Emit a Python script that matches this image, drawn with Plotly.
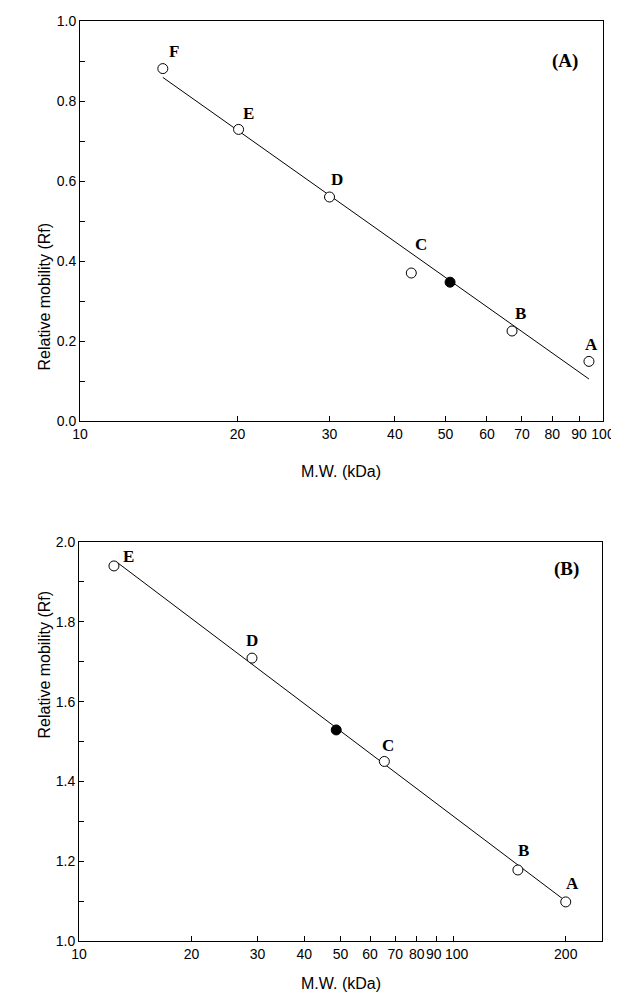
import math
import plotly.graph_objects as go

# ---------- Data: panel (A) ----------
a_labels = ["F", "E", "D", "C", "B", "A"]
a_mw = [14.4, 20.1, 30.0, 43.0, 67.0, 94.0]
a_rf = [0.881, 0.729, 0.560, 0.370, 0.225, 0.149]
a_unknown_mw = [51.0]
a_unknown_rf = [0.347]
a_fit_mw = [14.4, 94.0]
a_fit_rf = [0.859, 0.105]

# ---------- Data: panel (B) ----------
b_labels = ["E", "D", "C", "B", "A"]
b_mw = [12.4, 29.0, 65.5, 149.0, 200.0]
b_rf = [1.940, 1.709, 1.450, 1.178, 1.098]
b_unknown_mw = [48.7]
b_unknown_rf = [1.529]
b_fit_mw = [12.6, 200.0]
b_fit_rf = [1.950, 1.100]

a_xticks = [10, 20, 30, 40, 50, 60, 70, 80, 90, 100]
b_xticks = [10, 20, 30, 40, 50, 60, 70, 80, 90, 100, 200]
b_crowded = [90, 100]          # labels drawn separately to avoid collision

W, H = 619, 995

def px_x(p):
    return p / W

def px_y(p):
    return 1 - p / H

fig = go.Figure()

def add_panel(xa, ya, mw, rf, umw, urf, fmw, frf):
    fig.add_trace(go.Scatter(x=fmw, y=frf, mode="lines",
                             line=dict(color="black", width=1),
                             xaxis=xa, yaxis=ya, showlegend=False, hoverinfo="skip"))
    fig.add_trace(go.Scatter(x=mw, y=rf, mode="markers",
                             marker=dict(symbol="circle", size=10, color="white",
                                         line=dict(color="black", width=1)),
                             xaxis=xa, yaxis=ya, showlegend=False))
    fig.add_trace(go.Scatter(x=umw, y=urf, mode="markers",
                             marker=dict(symbol="circle", size=10, color="black",
                                         line=dict(color="black", width=1)),
                             xaxis=xa, yaxis=ya, showlegend=False))

add_panel("x", "y", a_mw, a_rf, a_unknown_mw, a_unknown_rf, a_fit_mw, a_fit_rf)
add_panel("x2", "y2", b_mw, b_rf, b_unknown_mw, b_unknown_rf, b_fit_mw, b_fit_rf)

tickfont = dict(family="Liberation Sans, Arial, sans-serif", size=14, color="black")

def xaxis_cfg(rng, ticks, anchor, dom, hide=()):
    return dict(type="log", range=rng, domain=dom, anchor=anchor, automargin=False,
                tickvals=ticks, ticktext=["" if t in hide else str(t) for t in ticks],
                tickangle=0,
                ticks="inside", ticklen=5, tickcolor="black", tickwidth=1,
                showline=True, linecolor="black", linewidth=1, mirror=True,
                showgrid=False, zeroline=False, tickfont=tickfont)

def yaxis_cfg(rng, anchor, dom):
    return dict(range=rng, domain=dom, anchor=anchor, dtick=0.2, tickformat=".1f",
                automargin=False,
                ticks="inside", ticklen=5, tickcolor="black", tickwidth=1,
                minor=dict(dtick=0.1, ticks="inside", ticklen=5, tickcolor="black"),
                showline=True, linecolor="black", linewidth=1, mirror=True,
                showgrid=False, zeroline=False, tickfont=tickfont)

B_BOTTOM = 933
fig.update_layout(
    width=W, height=H,
    margin=dict(l=0, r=0, t=0, b=0, autoexpand=False),
    paper_bgcolor="white", plot_bgcolor="white",
    xaxis=xaxis_cfg([1, 2], a_xticks, "y", [px_x(72), px_x(595)]),
    yaxis=yaxis_cfg([0, 1.0], "x", [px_y(413), px_y(13)]),
    xaxis2=xaxis_cfg([1, 2.39794], b_xticks, "y2", [px_x(71), px_x(594)], hide=b_crowded),
    yaxis2=yaxis_cfg([1.0, 2.0], "x2", [px_y(B_BOTTOM), px_y(534)]),
    showlegend=False,
)

# crowded tick labels of panel B, nudged apart slightly
for t, dx in zip(b_crowded, (-2, 4)):
    fig.add_annotation(x=math.log10(t), xref="x2", y=px_y(B_BOTTOM), yref="paper",
                       text=str(t), showarrow=False, font=tickfont,
                       yanchor="top", xshift=dx, yshift=-3)

letter_font = dict(family="Liberation Serif, Times New Roman, serif", size=17, color="black")
title_font = dict(family="Liberation Sans, Arial, sans-serif", size=16, color="black")

a_offsets = [(11, 17), (10, 16), (7, 18), (10, 29), (8, 18), (3, 17)]
for lab, x, y, (dx, dy) in zip(a_labels, a_mw, a_rf, a_offsets):
    fig.add_annotation(x=math.log10(x), y=y, xref="x", yref="y",
                       text="<b>%s</b>" % lab, showarrow=False, font=letter_font,
                       xshift=dx, yshift=dy)
b_offsets = [(15, 9), (0, 18), (4, 16), (6, 19), (7, 18)]
for lab, x, y, (dx, dy) in zip(b_labels, b_mw, b_rf, b_offsets):
    fig.add_annotation(x=math.log10(x), y=y, xref="x2", yref="y2",
                       text="<b>%s</b>" % lab, showarrow=False, font=letter_font,
                       xshift=dx, yshift=dy)

panel_font = dict(family="Liberation Serif, Times New Roman, serif", size=19, color="black")
fig.add_annotation(x=px_x(572), y=px_y(40), xref="paper", yref="paper",
                   text="<b>(A)</b>", showarrow=False, font=panel_font)
fig.add_annotation(x=px_x(573), y=px_y(561), xref="paper", yref="paper",
                   text="<b>(B)</b>", showarrow=False, font=panel_font)

for yc in (463, 986):
    fig.add_annotation(x=px_x(333), y=px_y(yc), xref="paper", yref="paper",
                       text="M.W. (kDa)", showarrow=False, font=title_font)
for yc in (213, 733):
    fig.add_annotation(x=px_x(25), y=px_y(yc), xref="paper", yref="paper",
                       text="Relative mobility (Rf)", showarrow=False, font=title_font,
                       textangle=-90)

fig.write_html("out.html")
